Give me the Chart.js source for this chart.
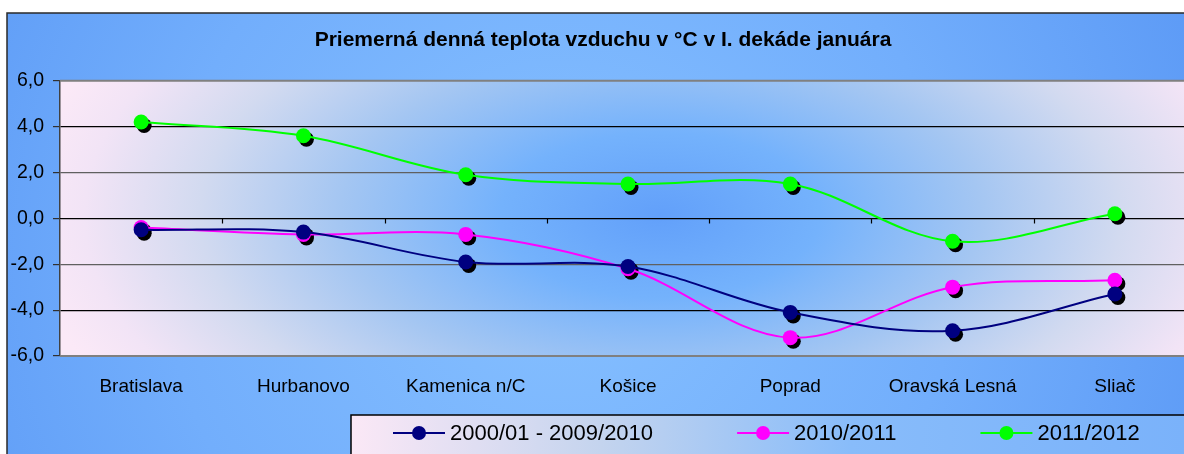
<!DOCTYPE html>
<html>
<head>
<meta charset="utf-8">
<script src="https://cdn.jsdelivr.net/npm/chart.js@4/dist/chart.umd.min.js"></script>
<style>
html,body{margin:0;padding:0;width:1184px;height:454px;overflow:hidden;background:#fff;}
#wrap{position:absolute;left:0;top:0;width:1230px;height:480px;}
</style>
</head>
<body>
<div id="wrap"><canvas id="c" width="1230" height="480"></canvas></div>
<script>
const titleText = 'Priemerná denná teplota vzduchu v °C v I. dekáde januára';
const categories = ['Bratislava', 'Hurbanovo', 'Kamenica n/C', 'Košice', 'Poprad', 'Oravská Lesná', 'Sliač'];
const seriesLabels = ['2000/01 - 2009/2010', '2010/2011', '2011/2012'];
const valuesLongTerm = [-0.5, -0.6, -1.9, -2.1, -4.1, -4.9, -3.3];
const values2010_2011 = [-0.4, -0.7, -0.7, -2.2, -5.2, -3.0, -2.7];
const values2011_2012 = [4.2, 3.6, 1.9, 1.5, 1.5, -1.0, 0.2];
const yMin = -6, yMax = 6, yStep = 2;
const seriesColors = ['#000080', '#ff00ff', '#00ff00'];

const FONT = '"Liberation Sans", Arial, sans-serif';

const bgPlugin = {
  id: 'bg',
  beforeDraw(chart) {
    const ctx = chart.ctx, W = chart.width, H = chart.height;
    const a = chart.chartArea;
    ctx.save();
    ctx.fillStyle = '#fff';
    ctx.fillRect(0, 0, W, H);
    const ox = 7, oy = 13;
    let g = ctx.createRadialGradient(560, 260, 0, 560, 260, 720);
    g.addColorStop(0, '#86c0ff');
    g.addColorStop(0.55, '#72aefc');
    g.addColorStop(1, '#5a98f5');
    ctx.fillStyle = g;
    ctx.fillRect(ox, oy, W - ox, H - oy);
    ctx.strokeStyle = '#2a2a2a';
    ctx.lineWidth = 1.5;
    ctx.strokeRect(ox, oy, W, H);
    const cx = 660, cy = 215, rx = 640, ry = 330;
    ctx.save();
    ctx.beginPath();
    ctx.rect(a.left, a.top, a.right - a.left, a.bottom - a.top);
    ctx.clip();
    ctx.translate(cx, cy);
    ctx.scale(1, ry / rx);
    g = ctx.createRadialGradient(0, 0, 0, 0, 0, rx);
    g.addColorStop(0, '#62a0fa');
    g.addColorStop(0.25, '#74b2fc');
    g.addColorStop(0.5, '#a4c6f2');
    g.addColorStop(0.72, '#d2daf0');
    g.addColorStop(0.9, '#f2e4f6');
    g.addColorStop(1, '#fbe9f7');
    ctx.fillStyle = g;
    ctx.fillRect(-rx - 100, -rx * 2, rx * 2 + 200, rx * 4);
    ctx.restore();
    ctx.restore();
  },
  beforeDatasetsDraw(chart) {
    const ctx = chart.ctx, a = chart.chartArea;
    const ys = chart.scales.y;
    ctx.save();
    ctx.strokeStyle = '#808080';
    ctx.lineWidth = 2;
    ctx.beginPath();
    ctx.moveTo(a.left, a.top); ctx.lineTo(a.right, a.top);
    ctx.moveTo(a.left, a.bottom); ctx.lineTo(a.right, a.bottom);
    ctx.stroke();
    const y0 = Math.round(ys.getPixelForValue(0)) + 0.5;
    ctx.strokeStyle = '#000';
    ctx.lineWidth = 1.2;
    ctx.beginPath();
    ctx.moveTo(a.left, y0); ctx.lineTo(a.right, y0);
    const n = categories.length;
    const w = (a.right - a.left) / n;
    for (let i = 1; i < n; i++) {
      const x = Math.round(a.left + i * w) + 0.5;
      ctx.moveTo(x, y0); ctx.lineTo(x, y0 + 5);
    }
    ctx.stroke();
    ctx.fillStyle = '#000';
    chart.data.datasets.forEach((ds, di) => {
      const meta = chart.getDatasetMeta(di);
      meta.data.forEach(p => {
        ctx.beginPath();
        ctx.arc(p.x + 3, p.y + 3.5, 7.5, 0, Math.PI * 2);
        ctx.fill();
      });
    });
    ctx.restore();
  },
  afterDraw(chart) {
    const ctx = chart.ctx, W = chart.width, H = chart.height;
    ctx.save();
    const lx = 351, ly = 415;
    const g = ctx.createLinearGradient(lx, 0, 1184, 0);
    g.addColorStop(0, '#fbe8f6');
    g.addColorStop(0.3, '#c4d4ee');
    g.addColorStop(0.6, '#88bcfa');
    g.addColorStop(1, '#7ab2fa');
    ctx.fillStyle = g;
    ctx.fillRect(lx, ly, W - lx, H - ly);
    ctx.strokeStyle = '#000';
    ctx.lineWidth = 1.5;
    ctx.strokeRect(lx, ly, W, H);
    ctx.font = '22px ' + FONT;
    ctx.textBaseline = 'middle';
    ctx.textAlign = 'left';
    let x = 393;
    const yy = 433;
    chart.data.datasets.forEach(ds => {
      ctx.strokeStyle = ds.borderColor;
      ctx.lineWidth = 2;
      ctx.beginPath();
      ctx.moveTo(x, yy); ctx.lineTo(x + 52, yy);
      ctx.stroke();
      ctx.fillStyle = ds.backgroundColor;
      ctx.beginPath();
      ctx.arc(x + 26, yy, 7, 0, Math.PI * 2);
      ctx.fill();
      ctx.fillStyle = '#000';
      const tx = x + 57;
      ctx.fillText(ds.label, tx, yy + 1);
      x = tx + ctx.measureText(ds.label).width + 84;
    });
    ctx.restore();
  }
};

const datasets = [valuesLongTerm, values2010_2011, values2011_2012].map((vals, i) => ({
  label: seriesLabels[i],
  data: vals,
  borderColor: seriesColors[i],
  backgroundColor: seriesColors[i],
  pointBackgroundColor: seriesColors[i],
  pointBorderColor: seriesColors[i],
  pointBorderWidth: 0,
  pointRadius: 7.5,
  pointHoverRadius: 7.5,
  borderWidth: 2,
  tension: 0.35,
  fill: false
}));

new Chart(document.getElementById('c'), {
  type: 'line',
  data: { labels: categories, datasets },
  plugins: [bgPlugin],
  options: {
    responsive: false,
    devicePixelRatio: 1,
    animation: false,
    events: [],
    layout: { padding: { left: 10, right: 34, top: 13, bottom: 74 } },
    plugins: {
      legend: { display: false },
      tooltip: { enabled: false },
      title: {
        display: true,
        text: titleText,
        color: '#000',
        font: { family: FONT, size: 21, weight: 'bold', lineHeight: 1.2 },
        padding: { top: 14.5, bottom: 28 }
      }
    },
    scales: {
      x: {
        type: 'category',
        offset: true,
        grid: { display: false },
        border: { display: false },
        ticks: { color: '#000', font: { family: FONT, size: 19 }, padding: 11, maxRotation: 0, autoSkip: false },
        afterFit(s) { s.height = 50; }
      },
      y: {
        min: yMin, max: yMax,
        ticks: {
          stepSize: yStep,
          color: '#000',
          font: { family: FONT, size: 19.5 },
          padding: 9,
          callback: v => v.toFixed(1).replace('.', ',')
        },
        grid: {
          drawTicks: true,
          tickLength: 7,
          tickColor: '#303030',
          color: ctx => {
            const v = ctx.tick ? ctx.tick.value : 0;
            if (v === yMin || v === yMax) return 'rgba(0,0,0,0)';
            if (Math.abs(v) === 2) return '#606060';
            return '#000';
          },
          lineWidth: 1.2
        },
        border: { display: true, color: '#404040', width: 1.5 },
        afterFit(s) { s.width = 50; }
      }
    }
  }
});
</script>
</body>
</html>
